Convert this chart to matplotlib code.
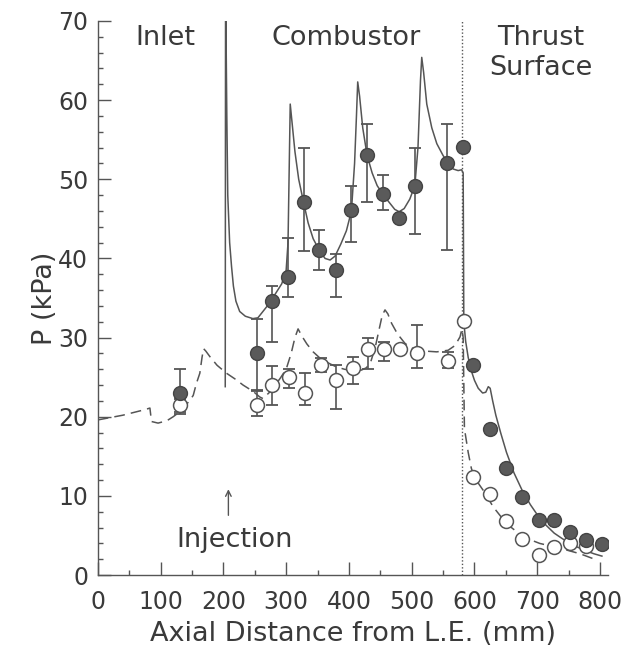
import numpy as np
import matplotlib
matplotlib.use("Agg")
import matplotlib.pyplot as plt

# measured points, combustion (filled) and no fuel (open)
filled_x = [131, 254, 277, 303, 328, 353, 379, 404, 429, 455, 480, 506, 557, 582,
            598, 625, 651, 676, 702, 727, 752, 777, 803]
filled_p = [23.0, 28.0, 34.6, 37.6, 47.1, 41.1, 38.6, 46.1, 53.1, 48.1, 45.1, 49.1, 52.1, 54.1,
            26.6, 18.5, 13.5, 9.9, 6.9, 6.9, 5.4, 4.4, 3.9]
filled_lo = [20.4, 23.3, 29.5, 35.1, 41.0, 38.6, 35.1, 42.1, 47.1, 46.1, np.nan, 43.1, 41.1, np.nan,
             np.nan, np.nan, np.nan, np.nan, np.nan, np.nan, np.nan, np.nan, np.nan]
filled_hi = [26.0, 32.4, 36.5, 42.6, 54.0, 43.6, 40.6, 49.1, 57.0, 50.5, np.nan, 54.0, 57.0, np.nan,
             np.nan, np.nan, np.nan, np.nan, np.nan, np.nan, np.nan, np.nan, np.nan]

open_x = [131, 254, 278, 304, 330, 355, 380, 407, 430, 456, 482, 508, 558, 584,
          598, 625, 651, 675, 702, 727, 752, 777]
open_p = [21.5, 21.5, 24.0, 25.0, 23.0, 26.5, 24.6, 26.1, 28.5, 28.5, 28.5, 28.1, 27.1, 32.1,
          12.4, 10.2, 6.8, 4.5, 2.5, 3.6, 4.1, 3.7]
open_lo = [20.6, 20.1, 21.5, 23.6, 21.5, 25.7, 21.0, 24.1, 26.0, 27.1, np.nan, 26.1, 26.2, np.nan,
           np.nan, np.nan, np.nan, np.nan, np.nan, np.nan, np.nan, np.nan]
open_hi = [22.2, 23.4, 26.4, 26.0, 25.5, 27.4, 26.5, 27.5, 30.0, 29.5, np.nan, 31.6, 28.2, np.nan,
           np.nan, np.nan, np.nan, np.nan, np.nan, np.nan, np.nan, np.nan]

# computed curves
comb_x = [203, 203.5, 205.5, 207, 210, 213, 216, 220, 226, 235, 247, 255, 263, 270, 277, 285,
          293, 300, 303, 305, 306.5, 309, 314, 320, 328, 335, 343, 353, 362, 370, 378, 387,
          396, 404, 409, 412, 414, 417, 422, 429, 437, 445, 455, 465, 473, 480, 488, 497,
          505, 510, 514, 516, 519, 524, 532, 540, 550, 557, 566, 574, 579.5, 582,
          583, 586, 590, 595, 600, 606, 613, 618, 622, 625, 629, 634, 642, 651, 663, 676,
          689, 702, 714, 727, 740, 752, 765, 777, 790, 803]
comb_p = [23.8, 75, 58, 48.0, 42.0, 39.0, 36.5, 34.6, 33.3, 32.7, 32.4, 32.5, 33.3, 34.0, 34.8, 35.8,
          36.8, 38.5, 42, 52, 59.5, 57.5, 53.5, 50.0, 47.0, 44.5, 42.5, 41.0, 40.0, 39.8, 40.3, 41.8,
          43.5, 46.0, 52, 58, 62.3, 60.5, 56.5, 53.0, 50.8, 49.2, 48.0, 47.0, 46.2, 45.9, 46.3, 47.5,
          49.2, 54, 62.5, 65.4, 63.5, 59.5, 56.5, 54.5, 53.0, 52.2, 51.3, 51.1, 51.2, 50.8,
          32, 29.5, 27.5, 25.8, 24.6, 23.6, 23.0, 23.1, 23.8, 23.6, 22.0, 20.2, 17.9, 15.5, 12.9, 10.7,
          8.9, 7.4, 6.3, 5.3, 4.6, 4.0, 3.5, 3.1, 2.7, 2.4]

cold_x = [0, 40, 75, 83, 85.5, 96, 110, 120, 130, 138, 146, 152, 157, 162.5, 166, 168.5, 172,
          178.5, 190, 205, 220, 231.5, 247.5, 258, 263, 275, 290, 300, 308, 314, 319, 325, 333,
          343, 354, 367, 380, 393, 407, 420, 428, 435, 442, 448, 453, 457.5, 462, 468, 475,
          481, 489, 497, 509, 521, 540, 558, 569, 577, 580, 582,
          584, 590, 595, 600, 614, 630, 651, 678, 704, 736, 768, 795]
cold_p = [19.6, 20.2, 20.9, 21.1, 19.4, 19.2, 19.5, 20.0, 20.6, 21.3, 22.0, 22.7, 24.2, 25.5, 27.5, 28.6, 28.3,
          27.6, 26.5, 25.5, 24.7, 24.0, 23.2, 22.5, 22.3, 23.2, 24.8, 26.0, 28.0, 30.0, 31.1, 30.2, 29.2,
          28.2, 27.4, 26.8, 26.3, 26.0, 25.8, 25.9, 26.2, 27.0, 28.8, 31.0, 32.8, 33.5, 33.0, 31.8, 30.8,
          30.1, 29.3, 28.8, 28.4, 28.3, 28.2, 28.4, 29.0, 30.1, 31.1, 30.0,
          18.5, 15.5, 13.5, 12.3, 10.7, 8.6, 6.5, 4.8, 4.0, 3.4, 2.7, 1.9]

xticks = [0, 100, 200, 300, 400, 500, 600, 700, 800]
yticks = [0, 10, 20, 30, 40, 50, 60, 70]

ink = "#555555"
txt = "#3a3a3a"
big = 19.5

fig = plt.figure(figsize=(6.27, 6.55), dpi=100)
ax = fig.add_axes([0.156, 0.122, 0.813, 0.846])

ax.plot(comb_x, comb_p, color=ink, lw=1.1, zorder=2)
ax.plot(cold_x, cold_p, color=ink, lw=1.1, dashes=(7, 4), zorder=2)
ax.axvline(580, color=ink, lw=1.0, ls=(0, (1, 1.5)), zorder=1)


def bars(x, lo, hi):
    x = np.array(x, float)
    lo = np.array(lo, float)
    hi = np.array(hi, float)
    m = np.isfinite(lo)
    ax.vlines(x[m], lo[m], hi[m], color=ink, lw=1.2, zorder=3)
    for v in (lo[m], hi[m]):
        ax.plot(x[m], v, ls="none", marker="_", ms=9, mew=1.3, color=ink, zorder=3)


bars(open_x, open_lo, open_hi)
bars(filled_x, filled_lo, filled_hi)
ax.plot(open_x, open_p, ls="none", marker="o", ms=10, mfc="white", mec=ink, mew=1.1, zorder=4)
ax.plot(filled_x, filled_p, ls="none", marker="o", ms=10, mfc="#5a5a5a", mec="#444444", mew=1.0, zorder=5)

ax.set_xlim(0, 812)
ax.set_ylim(0, 70)
ax.set_xticks(xticks)
ax.set_yticks(yticks)
ax.set_xticks(np.arange(50, 800, 100), minor=True)
ax.set_yticks(np.arange(0, 70, 2), minor=True)
ax.tick_params(which="both", direction="in", colors=ink, labelcolor=txt, labelsize=17, width=1.0)
ax.tick_params(which="major", length=9.5)
ax.tick_params(which="minor", length=3.6)
ax.tick_params(axis="x", pad=11)
ax.tick_params(axis="y", pad=7)
for s in ("top", "right"):
    ax.spines[s].set_visible(False)
for s in ("left", "bottom"):
    ax.spines[s].set_color(ink)
    ax.spines[s].set_linewidth(1.0)

ax.set_xlabel("Axial Distance from L.E. (mm)", fontsize=big, color=txt, labelpad=5)
ax.set_ylabel("P (kPa)", fontsize=big, color=txt, labelpad=0)

ax.text(107, 67.9, "Inlet", fontsize=big, color=txt, ha="center", va="center")
ax.text(395, 67.9, "Combustor", fontsize=big, color=txt, ha="center", va="center")
ax.text(706, 67.9, "Thrust", fontsize=big, color=txt, ha="center", va="center")
ax.text(706, 64.0, "Surface", fontsize=big, color=txt, ha="center", va="center")
ax.text(218, 4.4, "Injection", fontsize=big, color=txt, ha="center", va="center")
ax.annotate("", xy=(208, 11.2), xytext=(208, 7.2),
            arrowprops=dict(arrowstyle="->", color=ink, lw=1.0))

fig.savefig("out.png", dpi=100)
